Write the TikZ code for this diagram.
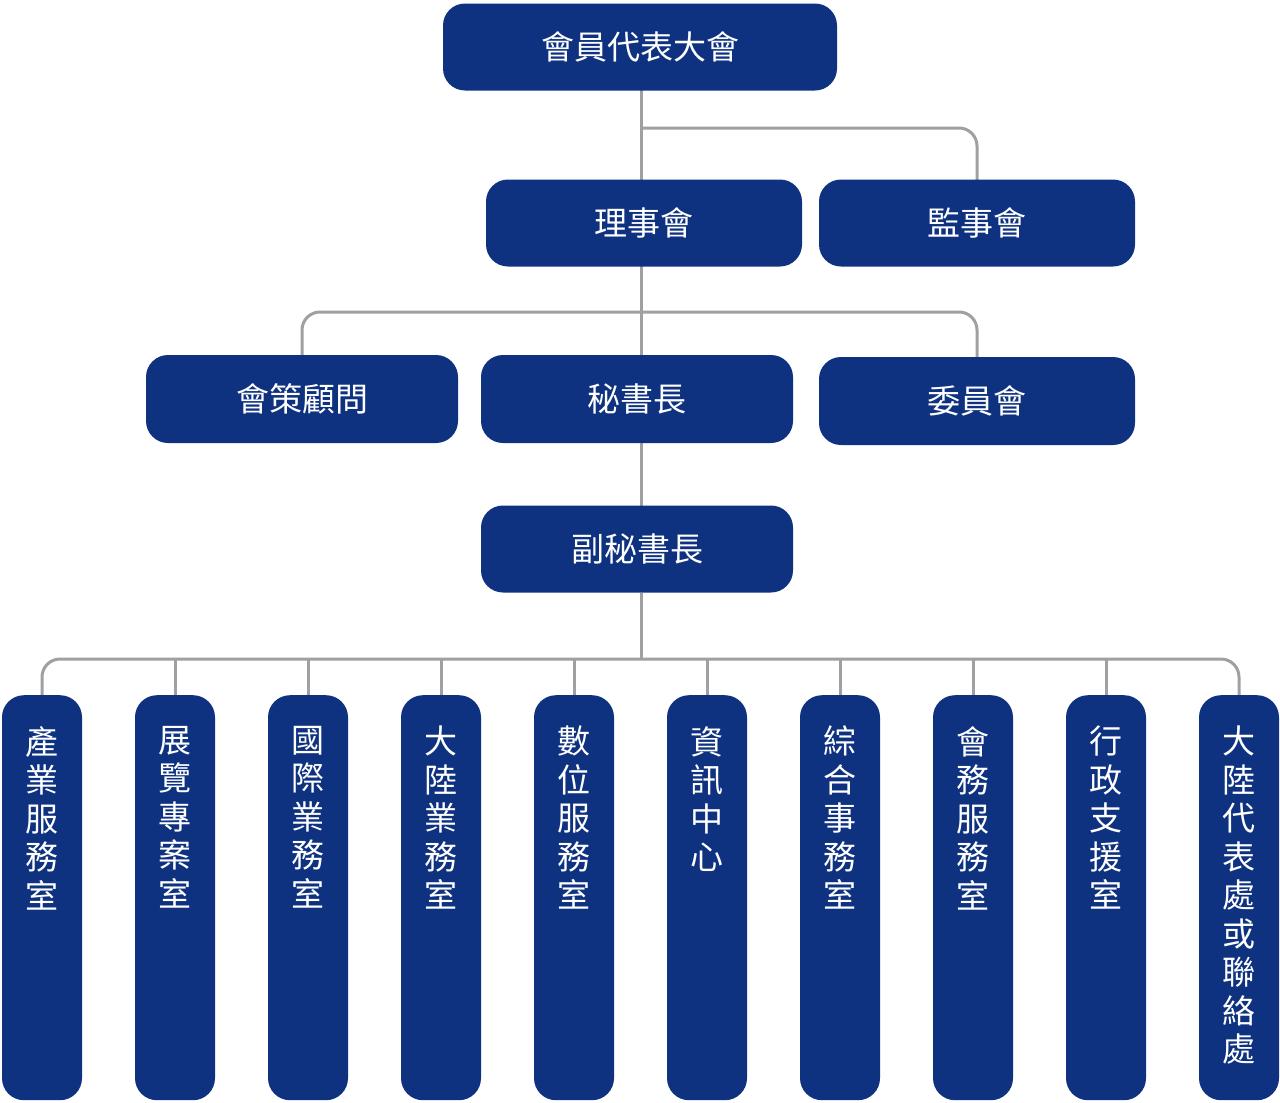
\documentclass[tikz,border=0pt]{standalone}
\usepackage{fontspec}
\setmainfont{Noto Sans CJK TC}
\begin{document}
\begin{tikzpicture}[x=1pt,y=-1pt,
  box/.style={fill={rgb,255:red,14;green,50;blue,128},rounded corners=22pt,text=white,inner sep=0pt,font=\fontsize{33}{38}\selectfont},
  col/.style={box,minimum width=80pt,minimum height=405pt,anchor=north},
  vt/.style={text=white,align=center,anchor=north,inner sep=0pt,font=\fontsize{33}{38.5}\selectfont},
  ln/.style={draw={rgb,255:red,160;green,160;blue,160},line width=3pt,rounded corners=18pt}]
\useasboundingbox (0,0) rectangle (1280,1103);
% lines
\draw[ln] (641,90) -- (641,506);
\draw[ln] (641,128) -- (977,128) -- (977,180);
\draw[ln] (302,355) -- (302,312) -- (977,312) -- (977,357);
\draw[ln] (641,593) -- (641,659);
\draw[ln] (42,695) -- (42,659) -- (1239,659) -- (1239,695);
\foreach \x in {175,308,441,574,707,840,973,1106}{\draw[ln] (\x,659) -- (\x,695);}
% boxes
\node[box,minimum width=394pt,minimum height=87pt] (a) at (640,47) {會員代表大會};
\node[box,minimum width=316pt,minimum height=87pt] (b) at (644,223) {理事會};
\node[box,minimum width=316pt,minimum height=87pt] (c) at (977,223) {監事會};
\node[box,minimum width=312pt,minimum height=88pt] (d) at (302,399) {會策顧問};
\node[box,minimum width=312pt,minimum height=88pt] (e) at (637,399) {秘書長};
\node[box,minimum width=316pt,minimum height=88pt] (f) at (977,401) {委員會};
\node[box,minimum width=312pt,minimum height=87pt] (g) at (637,549) {副秘書長};
\foreach \x/\t [count=\i] in {42/產\\業\\服\\務\\室,175/展\\覽\\專\\案\\室,308/國\\際\\業\\務\\室,441/大\\陸\\業\\務\\室,574/數\\位\\服\\務\\室,707/資\\訊\\中\\心,840/綜\\合\\事\\務\\室,973/會\\務\\服\\務\\室,1106/行\\政\\支\\援\\室,1239/大\\陸\\代\\表\\處\\或\\聯\\絡\\處}{
  \node[col] (c\i) at (\x,695) {};
  \node[vt] (t\i) at (\x,726) {\t};
}
\end{tikzpicture}
\end{document}
